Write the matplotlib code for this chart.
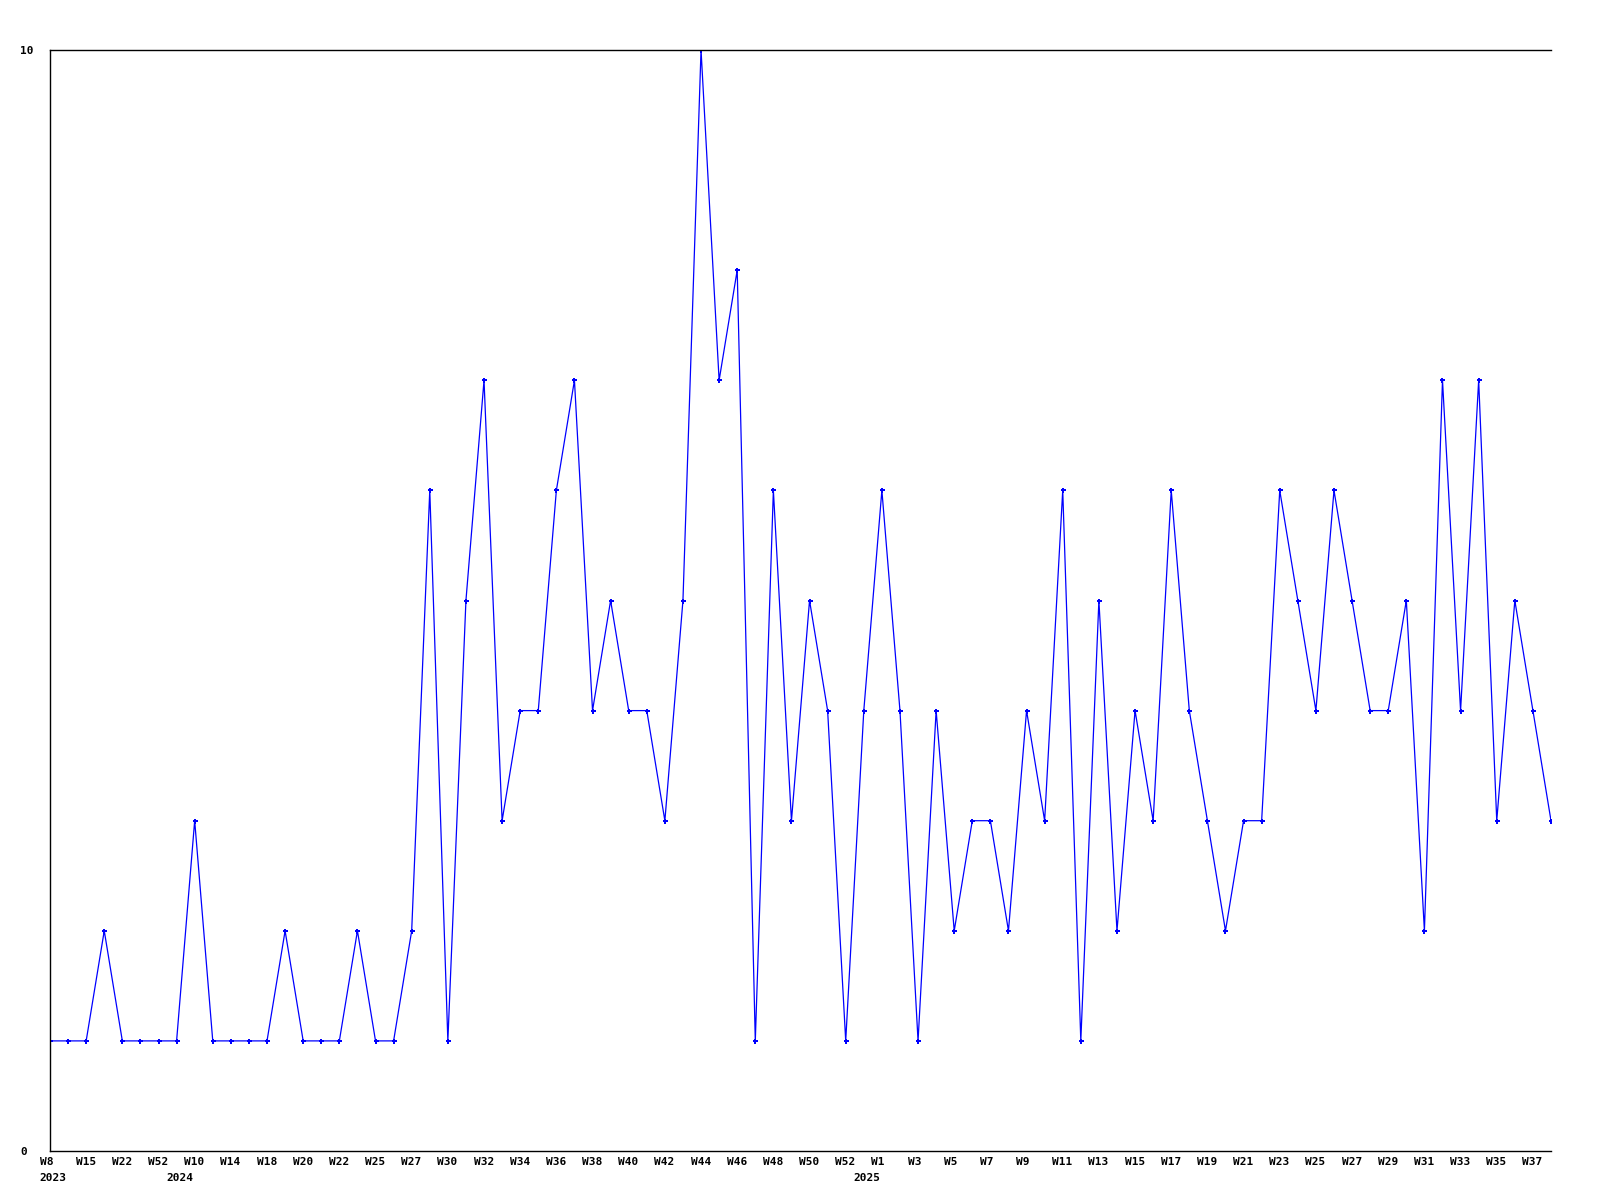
import matplotlib
matplotlib.use('Agg')
import matplotlib.pyplot as plt
import matplotlib.transforms as mtransforms
import numpy as np

# weekly counts, one value per week shown
values = [1, 1, 1, 2, 1, 1, 1, 1, 3, 1, 1, 1, 1, 2, 1, 1, 1, 2, 1, 1,
          2, 6, 1, 5, 7, 3, 4, 4, 6, 7, 4, 5, 4, 4, 3, 5, 10, 7, 8, 1,
          6, 3, 5, 4, 1, 4, 6, 4, 1, 4, 2, 3, 3, 2, 4, 3, 6, 1, 5, 2,
          4, 3, 6, 4, 3, 2, 3, 3, 6, 5, 4, 6, 5, 4, 4, 5, 2, 7, 4, 7,
          3, 5, 4, 3]

week_labels = ['W8', 'W15', 'W22', 'W52', 'W10', 'W14', 'W18', 'W20', 'W22', 'W25',
               'W27', 'W30', 'W32', 'W34', 'W36', 'W38', 'W40', 'W42', 'W44', 'W46',
               'W48', 'W50', 'W52', 'W1', 'W3', 'W5', 'W7', 'W9', 'W11', 'W13',
               'W15', 'W17', 'W19', 'W21', 'W23', 'W25', 'W27', 'W29', 'W31', 'W33',
               'W35', 'W37']
week_pos = list(range(0, 46, 2)) + list(range(46, 84, 2))

year_labels = ['2023', '2024', '2025']
year_pos = [0, 7, 45]

x = np.arange(len(values))

fig = plt.figure(figsize=(16, 12), dpi=100)
ax = fig.add_axes([50 / 1600, 49 / 1200, 1501 / 1600, 1101 / 1200])

ax.plot(x, values, color='#0000ff', linewidth=0.9, marker='P', markersize=3.6,
        markeredgewidth=0)

ax.set_xlim(0, len(values) - 1)
ax.set_ylim(0, 10)
ax.spines['right'].set_visible(False)
for s in ['left', 'bottom', 'top']:
    ax.spines[s].set_linewidth(1.0)

font = dict(family='DejaVu Sans Mono', weight='bold', size=8)

ax.set_yticks([0, 10])
ax.set_yticklabels(['0', '10'], **font)
ax.tick_params(axis='y', length=0, pad=21.6)
for lab in ax.get_yticklabels():
    lab.set_horizontalalignment('left')

ax.set_xticks(week_pos)
ax.set_xticklabels(week_labels, **font)
ax.tick_params(axis='x', length=0, pad=4)

offset = mtransforms.ScaledTranslation(-10.5 / 100, 0, fig.dpi_scale_trans)
for lab in ax.get_xticklabels():
    lab.set_horizontalalignment('left')
    lab.set_transform(lab.get_transform() + offset)

# year labels under the first week of each year
year_off = mtransforms.ScaledTranslation(-10.5 / 100, -22 / 100, fig.dpi_scale_trans)
trans = mtransforms.blended_transform_factory(ax.transData, ax.transAxes) + year_off
for p, y in zip(year_pos, year_labels):
    ax.text(p, 0, y, transform=trans, ha='left', va='top', clip_on=False, **font)

fig.savefig('out.png', dpi=100, facecolor='white')
